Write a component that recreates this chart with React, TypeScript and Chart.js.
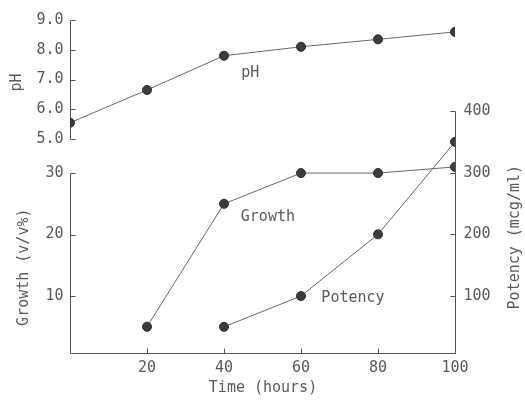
import React, { useEffect, useRef } from "react";
import { Chart, registerables } from "chart.js";

Chart.register(...registerables);

// ---- data ----
const timeHours = [0, 20, 40, 60, 80, 100];
const phValues = [5.55, 6.65, 7.8, 8.1, 8.35, 8.6];
const growthTimes = [20, 40, 60, 80, 100];
const growthValues = [5, 25, 30, 30, 31];
const potencyTimes = [40, 60, 80, 100];
const potencyValues = [50, 100, 200, 350];

// ---- ticks ----
const xTicks = [20, 40, 60, 80, 100];
const xTickLabels = ["20", "40", "60", "80", "100"];
const phTicks = [9, 8, 7, 6, 5];
const phTickLabels = ["9.0", "8.0", "7.0", "6.0", "5.0"];
const growthTicks = [10, 20, 30];
const growthTickLabels = ["10", "20", "30"];
const potencyTicks = [100, 200, 300, 400];
const potencyTickLabels = ["100", "200", "300", "400"];

const xTitle = "Time (hours)";
const phTitle = "pH";
const growthTitle = "Growth (v/v%)";
const potencyTitle = "Potency (mcg/ml)";

// in-plot labels (data coordinates)
const seriesLabels = [
  { text: "pH", x: 46.8, y: 7.2, axis: "yPH" },
  { text: "Growth", x: 51.4, y: 22.8, axis: "yG" },
  { text: "Potency", x: 73.5, y: 97, axis: "yP" },
];

const FONT = '"DejaVu Sans Mono", "Liberation Mono", monospace';
const TEXT_COLOR = "#5a5a5a";
const AXIS_COLOR = "#555555";
const LINE_COLOR = "#6a6a6a";
const POINT_COLOR = "#3c3c3c";
const TICK_LEN = 5;

const axesPlugin = {
  id: "paperAxes",
  beforeDatasetsDraw(chart: any) {
    const ctx = chart.ctx as CanvasRenderingContext2D;
    const sx = chart.scales.x;
    const sPH = chart.scales.yPH;
    const sG = chart.scales.yG;
    const sP = chart.scales.yP;
    const area = chart.chartArea;
    const r = (v: number) => Math.round(v) + 0.5;
    const left = r(sx.getPixelForValue(0));
    const right = r(sx.getPixelForValue(100));
    const bottom = r(area.bottom);

    ctx.save();
    ctx.strokeStyle = AXIS_COLOR;
    ctx.lineWidth = 1;

    // pH axis
    const phTop = r(sPH.getPixelForValue(phTicks[0]));
    const phBot = r(sPH.getPixelForValue(phTicks[phTicks.length - 1]));
    ctx.beginPath();
    ctx.moveTo(left, phTop);
    ctx.lineTo(left, phBot);
    phTicks.forEach((t) => {
      const y = r(sPH.getPixelForValue(t));
      ctx.moveTo(left, y);
      ctx.lineTo(left + TICK_LEN, y);
    });
    ctx.stroke();

    // growth axis
    const gTop = r(sG.getPixelForValue(growthTicks[growthTicks.length - 1]));
    ctx.beginPath();
    ctx.moveTo(left, gTop);
    ctx.lineTo(left, bottom);
    growthTicks.forEach((t) => {
      const y = r(sG.getPixelForValue(t));
      ctx.moveTo(left, y);
      ctx.lineTo(left + TICK_LEN, y);
    });
    ctx.stroke();

    // x axis
    ctx.beginPath();
    ctx.moveTo(left, bottom);
    ctx.lineTo(right, bottom);
    xTicks.forEach((t) => {
      const x = r(sx.getPixelForValue(t));
      ctx.moveTo(x, bottom);
      ctx.lineTo(x, bottom - TICK_LEN);
    });
    ctx.stroke();

    // potency axis
    const pTop = r(sP.getPixelForValue(potencyTicks[potencyTicks.length - 1]));
    ctx.beginPath();
    ctx.moveTo(right, pTop);
    ctx.lineTo(right, bottom);
    potencyTicks.forEach((t) => {
      const y = r(sP.getPixelForValue(t));
      ctx.moveTo(right, y);
      ctx.lineTo(right - TICK_LEN, y);
    });
    ctx.stroke();

    // tick labels
    ctx.fillStyle = TEXT_COLOR;
    ctx.font = `15px ${FONT}`;
    ctx.textBaseline = "middle";
    ctx.textAlign = "right";
    phTicks.forEach((t, i) => {
      ctx.fillText(phTickLabels[i], left - 7, sPH.getPixelForValue(t));
    });
    growthTicks.forEach((t, i) => {
      ctx.fillText(growthTickLabels[i], left - 7, sG.getPixelForValue(t));
    });
    ctx.textAlign = "left";
    potencyTicks.forEach((t, i) => {
      ctx.fillText(potencyTickLabels[i], right + 8, sP.getPixelForValue(t));
    });
    ctx.textAlign = "center";
    xTicks.forEach((t, i) => {
      ctx.fillText(xTickLabels[i], sx.getPixelForValue(t), bottom + 15);
    });

    // titles
    ctx.fillText(xTitle, (left + right) / 2, bottom + 35);
    const vertical = (text: string, x: number, y: number) => {
      ctx.save();
      ctx.translate(x, y);
      ctx.rotate(-Math.PI / 2);
      ctx.textAlign = "center";
      ctx.textBaseline = "middle";
      ctx.fillText(text, 0, 0);
      ctx.restore();
    };
    vertical(phTitle, 17, sPH.getPixelForValue(6.9));
    vertical(growthTitle, 24, (sG.getPixelForValue(1) + sG.getPixelForValue(30)) / 2 + 5);
    vertical(potencyTitle, 515, (sP.getPixelForValue(100) + sP.getPixelForValue(320)) / 2 + 9);

    // series labels
    ctx.textAlign = "center";
    seriesLabels.forEach((l) => {
      const sc = chart.scales[l.axis];
      ctx.fillText(l.text, sx.getPixelForValue(l.x), sc.getPixelForValue(l.y));
    });

    ctx.restore();
  },
};

export default function App() {
  const canvasRef = useRef<HTMLCanvasElement | null>(null);

  useEffect(() => {
    const canvas = canvasRef.current;
    if (!canvas) return;
    const pointStyle = {
      pointRadius: 4.5,
      pointBackgroundColor: POINT_COLOR,
      pointBorderColor: "#2a2a2a",
      pointBorderWidth: 1,
      borderColor: LINE_COLOR,
      borderWidth: 1,
      tension: 0,
      fill: false,
    };
    const chart = new Chart(canvas, {
      type: "line",
      data: {
        datasets: [
          {
            label: "pH",
            data: timeHours.map((t, i) => ({ x: t, y: phValues[i] })),
            yAxisID: "yPH",
            ...pointStyle,
          },
          {
            label: "Growth",
            data: growthTimes.map((t, i) => ({ x: t, y: growthValues[i] })),
            yAxisID: "yG",
            ...pointStyle,
          },
          {
            label: "Potency",
            data: potencyTimes.map((t, i) => ({ x: t, y: potencyValues[i] })),
            yAxisID: "yP",
            ...pointStyle,
          },
        ],
      },
      options: {
        responsive: false,
        animation: false,
        devicePixelRatio: 1,
        layout: { padding: { left: 70, right: 70, top: 20, bottom: 49 } },
        plugins: { legend: { display: false }, tooltip: { enabled: false } },
        elements: { point: { hitRadius: 0 } },
        scales: {
          x: { type: "linear", min: 0, max: 100, display: false },
          yPH: { type: "linear", min: -2.185, max: 9.0, display: false },
          yG: { type: "linear", min: 0.73, max: 54.9, display: false },
          yP: { type: "linear", min: 7.6, max: 547.6, display: false },
        },
      },
      plugins: [axesPlugin],
    } as any);
    return () => chart.destroy();
  }, []);

  return (
    <div style={{ position: "fixed", left: 0, top: 0, width: 525, height: 402, background: "#fff" }}>
      <canvas ref={canvasRef} width={525} height={402} style={{ width: 525, height: 402, display: "block" }} />
    </div>
  );
}
